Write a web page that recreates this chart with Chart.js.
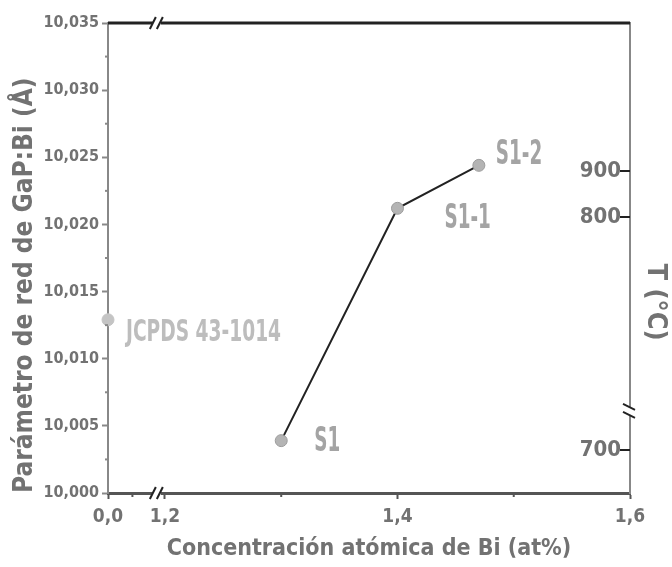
<!DOCTYPE html>
<html>
<head>
<meta charset="utf-8">
<script src="https://cdn.jsdelivr.net/npm/chart.js@4"></script>
<style>
  body { margin: 0; background: #fff; }
  #wrap { width: 672px; height: 567px; }
</style>
</head>
<body>
<div id="wrap"><canvas id="grafico" width="672" height="567"></canvas></div>
<script>
// datos
const sampleNames = ["S1", "S1-1", "S1-2"];
const biConc = [1.30, 1.40, 1.47];
const latticeParam = [10.0039, 10.0212, 10.0244];
const refName = "JCPDS 43-1014";
const refConc = [0.0];
const refLattice = [10.0129];
const yTicks = [10.000, 10.005, 10.010, 10.015, 10.020, 10.025, 10.030, 10.035];
const xTicks = [0.0, 1.2, 1.4, 1.6];
const xMinor = [0.5, 1.3, 1.5];
const tempTicks = [700, 800, 900];

const FONT = "'DejaVu Sans Condensed', 'DejaVu Sans', sans-serif";
const GRIS = "#727272";

// eje x cortado: 0,0 ... // ... 1,2 - 1,6
function mapX(x) {
  return x >= 1.2 ? x : 1.151 + x * 0.042;
}
// eje de temperatura cortado entre 700 y 800
function mapT(t) {
  return t >= 790 ? 276 + (t - 800) * 0.46 : 43 + (t - 700) * 0.46;
}
const xBreak = 1.0;
const tBreak = 785;

function fmt(v, d) {
  return v.toFixed(d).replace(".", ",");
}

const decor = {
  id: "decor",
  afterDraw(chart) {
    const ctx = chart.ctx;
    const a = chart.chartArea;
    const sx = chart.scales.x, sy = chart.scales.y, st = chart.scales.y2;
    ctx.save();

    // linea superior
    ctx.strokeStyle = "#222";
    ctx.lineWidth = 3;
    ctx.beginPath();
    ctx.moveTo(a.left, a.top);
    ctx.lineTo(a.right, a.top);
    ctx.stroke();

    // marcas menores
    ctx.lineWidth = 2;
    ctx.strokeStyle = "#888";
    for (let i = 0; i < yTicks.length - 1; i++) {
      let py = sy.getPixelForValue(yTicks[i] + 0.0025);
      ctx.beginPath();
      ctx.moveTo(a.left - 3, py);
      ctx.lineTo(a.left, py);
      ctx.stroke();
    }
    ctx.strokeStyle = "#555";
    xMinor.forEach((v) => {
      let px = sx.getPixelForValue(mapX(v));
      ctx.beginPath();
      ctx.moveTo(px, a.bottom);
      ctx.lineTo(px, a.bottom + 4);
      ctx.stroke();
    });

    // marcas de temperatura (hacia dentro)
    ctx.strokeStyle = "#222";
    tempTicks.forEach((t) => {
      let py = st.getPixelForValue(mapT(t));
      ctx.beginPath();
      ctx.moveTo(a.right - 10, py);
      ctx.lineTo(a.right, py);
      ctx.stroke();
    });

    // cortes //
    let bx = sx.getPixelForValue(mapX(xBreak));
    [a.top, a.bottom].forEach((yy) => {
      ctx.fillStyle = "#fff";
      ctx.fillRect(bx - 4, yy - 3, 8, 6);
      ctx.strokeStyle = "#222";
      ctx.lineWidth = 2;
      [-4, 3].forEach((d) => {
        ctx.beginPath();
        ctx.moveTo(bx + d - 3, yy + 6);
        ctx.lineTo(bx + d + 3, yy - 6);
        ctx.stroke();
      });
    });
    let by = st.getPixelForValue(mapT(tBreak));
    ctx.fillStyle = "#fff";
    ctx.fillRect(a.right - 3, by - 4, 6, 8);
    ctx.strokeStyle = "#222";
    [-4, 4].forEach((d) => {
      ctx.beginPath();
      ctx.moveTo(a.right - 7, by + d - 3);
      ctx.lineTo(a.right + 5, by + d + 3);
      ctx.stroke();
    });

    // titulo del eje de temperatura
    ctx.save();
    ctx.translate(655, 302);
    ctx.rotate(Math.PI / 2);
    ctx.fillStyle = GRIS;
    ctx.font = "bold 27px " + FONT;
    ctx.textAlign = "center";
    ctx.textBaseline = "middle";
    ctx.fillText("T (°C)", 0, 0);
    ctx.restore();

    // etiquetas de las muestras
    const drawLabel = (txt, x, y, color, size, sc) => {
      ctx.save();
      ctx.translate(x, y);
      ctx.scale(sc, 1);
      ctx.fillStyle = color;
      ctx.font = "bold " + size + "px " + FONT;
      ctx.textBaseline = "middle";
      ctx.textAlign = "left";
      ctx.fillText(txt, 0, 0);
      ctx.restore();
    };
    const offs = [[33, 2], [47, 11], [17, -10]];
    chart.getDatasetMeta(0).data.forEach((p, i) => {
      drawLabel(sampleNames[i], p.x + offs[i][0], p.y + offs[i][1], "#a4a4a4", 34, 0.6);
    });
    let r = chart.getDatasetMeta(1).data[0];
    drawLabel(refName, r.x + 18, r.y + 13, "#bdbdbd", 30, 0.69);

    ctx.restore();
  },
};

new Chart(document.getElementById("grafico"), {
  type: "scatter",
  data: {
    datasets: [
      {
        label: "muestras",
        data: biConc.map((x, i) => ({ x: mapX(x), y: latticeParam[i] })),
        showLine: true,
        borderColor: "#222",
        borderWidth: 2,
        pointRadius: 6,
        pointBackgroundColor: "#b4b4b4",
        pointBorderColor: "#9c9c9c",
        pointBorderWidth: 1,
        clip: false,
      },
      {
        label: refName,
        data: refConc.map((x, i) => ({ x: mapX(x), y: refLattice[i] })),
        pointRadius: 6,
        pointBackgroundColor: "#c4c4c4",
        pointBorderColor: "#c4c4c4",
        clip: false,
      },
    ],
  },
  options: {
    responsive: false,
    animation: false,
    layout: { padding: { top: 23, left: 0, right: 0, bottom: 0 } },
    plugins: { legend: { display: false }, tooltip: { enabled: false } },
    scales: {
      x: {
        type: "linear",
        position: "bottom",
        min: 1.151,
        max: 1.6,
        afterBuildTicks: (s) => { s.ticks = xTicks.map((v) => ({ value: mapX(v) })); },
        afterFit: (s) => { s.height = 74; },
        ticks: {
          autoSkip: false,
          maxRotation: 0,
          padding: 7,
          color: GRIS,
          font: { family: FONT, size: 19, weight: "bold" },
          callback: (v, i) => fmt(xTicks[i], 1),
        },
        grid: { drawOnChartArea: false, tickLength: 6, tickColor: "#555", tickWidth: 2 },
        border: { color: "#555", width: 3 },
        title: {
          display: true,
          text: "Concentración atómica de Bi (at%)",
          color: GRIS,
          font: { family: FONT, size: 23, weight: "bold" },
          padding: { top: 0, bottom: 4 },
        },
      },
      y: {
        position: "left",
        min: 10.0,
        max: 10.035,
        afterBuildTicks: (s) => { s.ticks = yTicks.map((v) => ({ value: v })); },
        afterFit: (s) => { s.width = 108; },
        ticks: {
          padding: 3,
          color: GRIS,
          font: { family: FONT, size: 16, weight: "bold" },
          callback: (v) => fmt(v, 3),
        },
        grid: { drawOnChartArea: false, tickLength: 6, tickColor: "#888", tickWidth: 2 },
        border: { color: "#888", width: 2 },
        title: {
          display: true,
          text: "Parámetro de red de GaP:Bi (Å)",
          align: "start",
          color: GRIS,
          font: { family: FONT, size: 26, weight: "bold" },
          padding: { top: 10, bottom: 0 },
        },
      },
      y2: {
        position: "right",
        min: 0,
        max: 470,
        afterBuildTicks: (s) => { s.ticks = tempTicks.map((t) => ({ value: mapT(t) })); },
        afterFit: (s) => { s.width = 42; },
        ticks: {
          mirror: true,
          padding: -9,
          color: GRIS,
          font: { family: FONT, size: 22, weight: "bold" },
          callback: (v, i) => String(tempTicks[i]),
        },
        grid: { drawOnChartArea: false, drawTicks: false },
        border: { color: "#888", width: 2 },
        title: { display: false },
      },
    },
  },
  plugins: [decor],
});
</script>
</body>
</html>
